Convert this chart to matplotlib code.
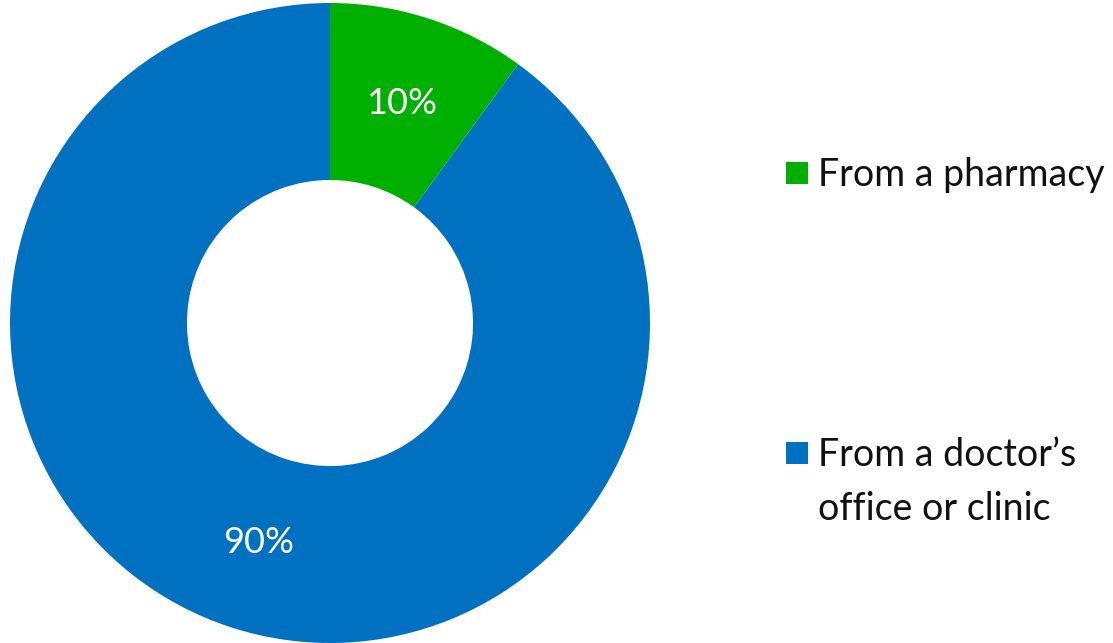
import matplotlib
matplotlib.use("Agg")
import matplotlib.pyplot as plt
from matplotlib.patches import Rectangle

# Where patients got their prescription
labels = ["From a pharmacy", "From a doctor\u2019s\noffice or clinic"]
shares = [10, 90]
colors = ["#00B000", "#0070C0"]

plt.rcParams['font.family'] = ['Lato', 'DejaVu Sans']

W, H = 1113, 643
fig = plt.figure(figsize=(W / 100, H / 100), dpi=100)

# donut axes: centre at (330, 323) px, radius 320 px
cx, cy, r = 330, 323, 320
ax = fig.add_axes([(cx - r) / W, (H - cy - r) / H, 2 * r / W, 2 * r / H])
wedges, _, autotexts = ax.pie(
    shares, colors=colors, startangle=90, counterclock=False, radius=1,
    wedgeprops=dict(width=0.553, edgecolor='none'),
    autopct=lambda p: f"{p:.0f}%", pctdistance=0.72,
    textprops=dict(color='white', fontsize=26, fontweight='normal'))
ax.set_xlim(-1, 1)
ax.set_ylim(-1, 1)
ax.set_aspect('equal')
ax.axis('off')

# legend entries on the right
sq = 22
entries_y = [173, 453]  # px from top, centre of the square / first line
for w, lab, yc in zip(wedges, labels, entries_y):
    fig.add_artist(Rectangle(((797 - sq / 2) / W, (H - yc - sq / 2) / H), sq / W, sq / H,
                             transform=fig.transFigure, facecolor=w.get_facecolor(),
                             edgecolor='none'))
    fig.text(818 / W, (H - yc + 16) / H, lab, fontsize=27, color='#111111',
             ha='left', va='top', linespacing=1.62)

fig.savefig("out.png", dpi=100)
